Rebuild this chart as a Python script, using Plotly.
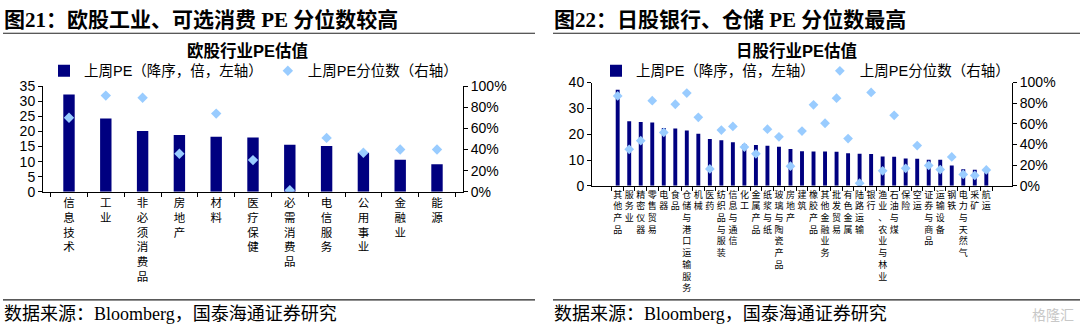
import plotly.graph_objects as go

# ---------------- data ----------------
cats_eu = ["信息技术", "工业", "非必须消费品", "房地产", "材料", "医疗保健",
           "必需消费品", "电信服务", "公用事业", "金融业", "能源"]
pe_eu = [32.2, 24.3, 20.1, 18.8, 18.2, 18.0, 15.6, 15.2, 12.9, 10.6, 9.1]
pct_eu = [0.70, 0.91, 0.89, 0.36, 0.74, 0.30, 0.015, 0.51, 0.37, 0.40, 0.40]

cats_jp = ["其他产品", "服务业", "精密仪器", "零售贸易", "电器", "食品",
           "仓储与港口运输服务", "机械", "医药", "纺织品与服装", "信息与通信",
           "化工", "金属产品", "纸浆与纸", "玻璃与陶瓷产品", "房地产", "建筑",
           "橡胶产品", "其他金融业务", "批发贸易", "有色金属", "陆路运输", "银行",
           "渔业、农业与林业", "石油与煤", "保险", "空运", "证券与商品", "运输设备",
           "钢铁", "电力与天然气", "采矿", "航运"]
pe_jp = [37.2, 25.0, 24.7, 24.5, 22.4, 22.2, 21.4, 20.2, 18.1, 17.7, 16.9,
         16.2, 15.8, 15.5, 15.1, 14.3, 13.4, 13.3, 13.3, 13.2, 12.6, 12.4, 12.3,
         11.4, 11.3, 10.6, 10.5, 10.1, 10.1, 7.9, 6.4, 6.2, 5.6]
pct_jp = [0.87, 0.354, 0.437, 0.825, 0.517, 0.79, 0.898, 0.664, 0.163, 0.54,
          0.575, 0.375, 0.31, 0.548, 0.474, 0.19, 0.53, 0.784, 0.606, 0.849,
          0.458, 0.025, 0.904, 0.145, 0.683, 0.17, 0.39, 0.197, 0.157, 0.28,
          0.11, 0.10, 0.154]

name_pe = "上周PE（降序，倍，左轴）"
name_pct = "上周PE分位数（右轴）"
title_eu = "欧股行业PE估值"
title_jp = "日股行业PE估值"
head_eu = "图21：欧股工业、可选消费 PE 分位数较高"
head_jp = "图22：日股银行、仓储 PE 分位数最高"
source = "数据来源：Bloomberg，国泰海通证券研究"

# ---------------- styles ----------------
W, H = 1080, 336
NAVY = "#000080"
LBLUE = "#99CCFF"
SANS = "Liberation Sans, Noto Sans CJK SC, sans-serif"
CJK = "Noto Sans CJK SC, sans-serif"
SERIF = "Liberation Serif, Noto Sans CJK SC, serif"


def px_x(p):
    return p / W


def px_y(p):
    return 1 - p / H


def vert(s):
    return "<br>".join(list(s))


fig = go.Figure()
fig.add_trace(go.Bar(x=cats_eu, y=pe_eu, name=name_pe, marker=dict(color=NAVY, line=dict(width=0)),
                     width=0.31, xaxis="x", yaxis="y", legend="legend"))
fig.add_trace(go.Scatter(x=cats_eu, y=pct_eu, name=name_pct, mode="markers",
                         marker=dict(symbol="diamond", size=8, color=LBLUE),
                         xaxis="x", yaxis="y2", legend="legend"))
fig.add_trace(go.Bar(x=cats_jp, y=pe_jp, name=name_pe, marker=dict(color=NAVY, line=dict(width=0)),
                     width=0.34, xaxis="x2", yaxis="y3", legend="legend2"))
fig.add_trace(go.Scatter(x=cats_jp, y=pct_jp, name=name_pct, mode="markers",
                         marker=dict(symbol="diamond", size=7.5, color=LBLUE),
                         xaxis="x2", yaxis="y4", legend="legend2"))

axis_common = dict(showline=True, linecolor="black", linewidth=1, ticks="outside",
                   tickcolor="black", ticklen=4, showgrid=False, zeroline=False)
yfont = dict(family=SANS, size=14, color="black")

fig.update_layout(
    width=W, height=H, margin=dict(l=0, r=0, t=0, b=0),
    paper_bgcolor="white", plot_bgcolor="white",
    bargap=0.7,
    xaxis=dict(domain=[px_x(43), px_x(463)], anchor="y", type="category",
               tickvals=cats_eu, ticktext=[vert(c) for c in cats_eu], tickangle=0,
               tickson="boundaries", tickfont=dict(family=CJK, size=11.5, color="black"),
               **axis_common),
    yaxis=dict(domain=[px_y(193), px_y(82)], range=[0, 35], dtick=5, anchor="x",
               tickfont=yfont, **axis_common),
    yaxis2=dict(overlaying="y", side="right", anchor="x", range=[0, 1], dtick=0.2,
                tickformat=".0%", tickfont=yfont, **axis_common),
    xaxis2=dict(domain=[px_x(592), px_x(1012)], anchor="y3", type="category",
                tickvals=cats_jp, ticktext=[vert(c) for c in cats_jp], tickangle=0,
                tickson="boundaries", tickfont=dict(family=CJK, size=9, color="black"),
                **axis_common),
    yaxis3=dict(domain=[px_y(186.7), px_y(78.3)], range=[0, 40], dtick=10, anchor="x2",
                tickfont=yfont, **axis_common),
    yaxis4=dict(overlaying="y3", side="right", anchor="x2", range=[0, 1], dtick=0.2,
                tickformat=".0%", tickfont=yfont, **axis_common),
    legend=dict(orientation="h", x=px_x(44), xanchor="left", y=px_y(66), yanchor="middle",
                font=dict(family=SANS, size=14.5, color="black"), bgcolor="rgba(0,0,0,0)",
                itemclick=False),
    legend2=dict(orientation="h", x=px_x(596), xanchor="left", y=px_y(66), yanchor="middle",
                 font=dict(family=SANS, size=14.5, color="black"), bgcolor="rgba(0,0,0,0)",
                 itemclick=False),
    showlegend=True,
)

annots = [
    dict(text="<b>" + head_eu + "</b>", x=px_x(2), y=px_y(13), xanchor="left", yanchor="middle",
         font=dict(family=SERIF, size=21, color="black")),
    dict(text="<b>" + head_jp + "</b>", x=px_x(552), y=px_y(13), xanchor="left", yanchor="middle",
         font=dict(family=SERIF, size=21, color="black")),
    dict(text="<b>" + title_eu + "</b>", x=px_x(247), y=px_y(45), xanchor="center", yanchor="middle",
         font=dict(family=SANS, size=16.5, color="black")),
    dict(text="<b>" + title_jp + "</b>", x=px_x(796), y=px_y(45), xanchor="center", yanchor="middle",
         font=dict(family=SANS, size=16.5, color="black")),
    dict(text=source, x=px_x(2), y=px_y(321), xanchor="left", yanchor="middle",
         font=dict(family=SERIF, size=18, color="black")),
    dict(text=source, x=px_x(552), y=px_y(321), xanchor="left", yanchor="middle",
         font=dict(family=SERIF, size=18, color="black")),
    dict(text="格隆汇", x=px_x(1076), y=px_y(321), xanchor="right", yanchor="middle",
         font=dict(family=CJK, size=14, color="#c8c8c8")),
]
for a in annots:
    a.update(xref="paper", yref="paper", showarrow=False)
fig.update_layout(annotations=annots)

line_style = dict(color="#222222", width=1.2)
shapes = [
    dict(type="line", x0=px_x(3), x1=px_x(535), y0=px_y(26.5), y1=px_y(26.5), line=line_style),
    dict(type="line", x0=px_x(553), x1=px_x(1080), y0=px_y(26.5), y1=px_y(26.5), line=line_style),
    dict(type="line", x0=px_x(3), x1=px_x(535), y0=px_y(306.5), y1=px_y(306.5), line=line_style),
    dict(type="line", x0=px_x(553), x1=px_x(1080), y0=px_y(306.5), y1=px_y(306.5), line=line_style),
]
for s in shapes:
    s.update(xref="paper", yref="paper")
fig.update_layout(shapes=shapes)

fig.write_html("out.html")
